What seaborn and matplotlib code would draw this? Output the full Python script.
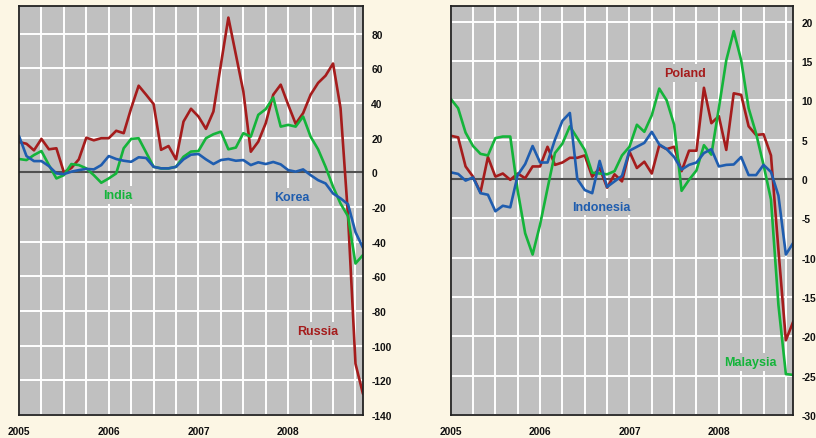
import numpy as np
import pandas as pd
import matplotlib
matplotlib.use("Agg")
import matplotlib.pyplot as plt
import seaborn as sns

# monthly index, Jan 2005 .. Nov 2008
months = list(range(47))
year_labels = ["2005", "2006", "2007", "2008"]

# left panel
russia = [17.5, 16.5, 12.7, 19.3, 13.3, 13.9, 0.0, 2.5, 7.5, 20.0, 18.5, 19.7,
          19.7, 24.0, 22.6, 37.0, 50.0, 44.8, 39.4, 13.0, 15.2, 7.5, 29.3, 36.7,
          32.2, 25.1, 35.1, 62.2, 89.3, 68.0, 46.7, 11.9, 17.7, 28.4, 44.8, 50.6,
          39.0, 28.0, 34.2, 44.8, 51.6, 55.8, 62.8, 37.1, -25.0, -110.4, -127.8]
india = [7.7, 7.1, 10.0, 12.3, 4.2, -3.5, -1.6, 4.8, 4.2, 2.3, -1.6, -6.0,
         -3.5, -0.6, 13.9, 19.3, 19.7, 11.5, 3.2, 2.3, 2.3, 3.2, 9.0, 12.0,
         12.3, 19.7, 22.0, 23.5, 13.3, 14.3, 22.6, 20.6, 33.2, 36.5, 43.2, 26.4,
         27.4, 26.4, 32.2, 20.6, 13.3, 3.2, -8.3, -18.0, -25.3, -52.6, -47.7]
korea = [21.0, 9.4, 6.5, 6.5, 3.6, -0.6, -1.0, 0.4, 1.3, 2.0, 1.7, 4.2,
         9.4, 7.7, 6.7, 6.1, 8.7, 8.3, 3.2, 2.3, 2.3, 3.2, 7.5, 10.2,
         10.6, 7.5, 4.8, 7.1, 7.7, 6.7, 7.1, 4.2, 5.8, 4.8, 6.0, 4.6,
         1.3, 0.4, 1.7, -1.6, -4.5, -6.4, -12.2, -15.0, -18.4, -34.5, -43.5]

# right panel
poland = [5.5, 5.3, 1.6, 0.3, -1.7, 2.8, 0.3, 0.7, -0.1, 0.7, 0.1, 1.6,
          1.6, 4.1, 1.8, 2.1, 2.7, 2.7, 3.0, 0.3, 1.4, -1.1, 0.6, -0.3,
          3.5, 1.4, 2.2, 0.7, 4.3, 3.8, 4.1, 1.0, 3.6, 3.6, 11.6, 7.1,
          8.0, 3.7, 10.9, 10.7, 6.7, 5.6, 5.7, 3.0, -9.0, -20.5, -18.1]
malaysia = [10.2, 9.0, 5.9, 4.2, 3.2, 3.0, 5.2, 5.4, 5.4, -1.5, -6.9, -9.6,
            -5.8, -1.2, 3.3, 4.5, 6.7, 5.2, 3.7, 0.8, 0.7, 0.6, 1.0, 3.0,
            4.1, 6.9, 6.0, 8.1, 11.5, 10.0, 6.9, -1.5, -0.1, 1.1, 4.3, 3.1,
            9.0, 15.1, 18.8, 15.1, 9.0, 5.8, 1.8, -2.6, -16.0, -24.8, -24.9]
indonesia = [0.85, 0.65, -0.2, 0.2, -1.8, -2.0, -4.1, -3.4, -3.6, 0.5, 1.9, 4.2,
             2.1, 2.1, 5.0, 7.4, 8.4, 0.0, -1.4, -1.8, 2.3, -1.0, -0.3, 0.4,
             3.6, 4.1, 4.6, 6.0, 4.4, 3.8, 2.8, 1.2, 1.8, 2.1, 3.3, 3.8,
             1.6, 1.8, 1.85, 2.8, 0.5, 0.5, 1.8, 0.9, -2.1, -9.6, -8.1]

red = "#A51C1C"
green = "#14B43A"
blue = "#1F5DAF"
bg = "#FCF6E4"
plot_bg = "#C0C0C0"

sns.set_theme(style="white")
plt.rcParams["font.family"] = ["Liberation Sans", "DejaVu Sans"]
plt.rcParams["font.weight"] = "bold"


def make_df(series):
    rows = []
    for name, vals in series.items():
        for m, v in zip(months, vals):
            rows.append({"month": m, "value": v, "country": name})
    return pd.DataFrame(rows)


left_df = make_df({"Russia": russia, "India": india, "Korea": korea})
right_df = make_df({"Poland": poland, "Malaysia": malaysia, "Indonesia": indonesia})

fig = plt.figure(figsize=(8.16, 4.39), dpi=100, facecolor=bg)
ax1 = fig.add_axes([0.0233, 0.0524, 0.4215, 0.9317])
ax2 = fig.add_axes([0.5523, 0.0524, 0.4199, 0.9317])


def style_axis(ax, ylim, yticks):
    ax.set_facecolor(plot_bg)
    ax.set_xlim(0, 46)
    ax.set_ylim(*ylim)
    xt = list(range(0, 46, 3))
    ax.set_xticks(xt)
    ax.set_xticklabels([year_labels[t // 12] if t % 12 == 0 else "" for t in xt])
    ax.set_yticks(yticks)
    ax.set_yticklabels([str(v) for v in yticks])
    ax.yaxis.tick_right()
    ax.grid(True, color="white", linewidth=1.4)
    ax.set_axisbelow(True)
    ax.axhline(0, color="#505050", linewidth=1.5, zorder=1.5)
    ax.tick_params(axis="both", length=0, labelsize=7.4, colors="#111111")
    ax.tick_params(axis="y", pad=6)
    ax.tick_params(axis="x", pad=8)
    for s in ax.spines.values():
        s.set_color("#222222")
        s.set_linewidth(1.3)
        s.set_visible(True)
    ax.set_xlabel("")
    ax.set_ylabel("")


sns.lineplot(data=left_df, x="month", y="value", hue="country",
             palette={"Russia": red, "India": green, "Korea": blue},
             linewidth=1.9, legend=False, ax=ax1)
sns.lineplot(data=right_df, x="month", y="value", hue="country",
             palette={"Poland": red, "Malaysia": green, "Indonesia": blue},
             linewidth=1.9, legend=False, ax=ax2)

style_axis(ax1, (-140, 96), list(range(-140, 81, 20)))
style_axis(ax2, (-30, 22), list(range(-30, 21, 5)))

box = dict(facecolor=plot_bg, edgecolor="none", pad=2)
lab = dict(fontsize=9, fontweight="bold", ha="center", va="center", bbox=box)
ax1.text(13.2, -13.1, "India", color=green, **lab)
ax1.text(36.5, -14.3, "Korea", color=blue, **lab)
ax1.text(40.0, -91.4, "Russia", color=red, **lab)
ax2.text(31.5, 13.5, "Poland", color=red, **lab)
ax2.text(20.2, -3.5, "Indonesia", color=blue, **lab)
ax2.text(40.2, -23.25, "Malaysia", color=green, **lab)

fig.savefig("out.png", dpi=100, facecolor=bg)
